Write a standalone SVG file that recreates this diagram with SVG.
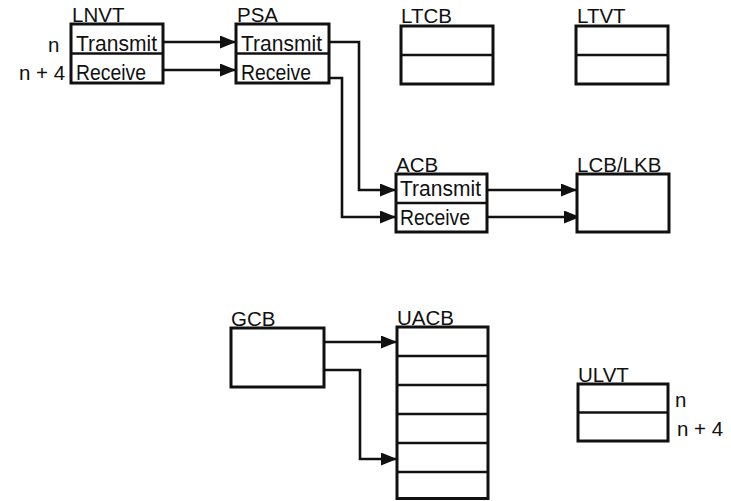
<svg xmlns="http://www.w3.org/2000/svg" width="731" height="501" viewBox="0 0 731 501">
<style>
  .box { fill: #fff; stroke: #111; stroke-width: 3; }
  .div { stroke: #111; stroke-width: 2.6; fill: none; }
  .lbl { font-family: "Liberation Sans", Arial, sans-serif; font-size: 20.5px; fill: #111; }
  .row { font-family: "Liberation Sans", Arial, sans-serif; font-size: 22px; fill: #111; }
  .wire { stroke: #111; stroke-width: 2.6; fill: none; }
</style>
<defs>
  <marker id="arr" markerUnits="userSpaceOnUse" markerWidth="17" markerHeight="14" refX="16" refY="6.5" orient="auto">
    <path d="M0,0 L16,6.5 L0,13 Z" fill="#111"/>
  </marker>
</defs>

<g id="connectors">
  <path class="wire" d="M163,42 L236,42" marker-end="url(#arr)"/>
  <path class="wire" d="M163,70 L236,70" marker-end="url(#arr)"/>
  <path class="wire" d="M329,42 L359,42 L359,190 L396,190" marker-end="url(#arr)"/>
  <path class="wire" d="M329,78 L342,78 L342,217 L396,217" marker-end="url(#arr)"/>
  <path class="wire" d="M487,190 L577,190" marker-end="url(#arr)"/>
  <path class="wire" d="M487,217 L580,217" marker-end="url(#arr)"/>
  <path class="wire" d="M324,342 L397,342" marker-end="url(#arr)"/>
  <path class="wire" d="M324,370 L360,370 L360,459 L397,459" marker-end="url(#arr)"/>
</g>

<g id="lnvt">
  <text class="lbl" x="72" y="22">LNVT</text>
  <text class="lbl" x="48" y="51.5">n</text>
  <text class="lbl" x="19" y="80">n + 4</text>
  <rect class="box" x="71" y="24" width="92" height="59"/>
  <line class="div" x1="71" y1="53.5" x2="163" y2="53.5"/>
  <text class="row" x="76" y="50.5" textLength="81" lengthAdjust="spacingAndGlyphs">Transmit</text>
  <text class="row" x="76" y="79.5" textLength="70" lengthAdjust="spacingAndGlyphs">Receive</text>
</g>

<g id="psa">
  <text class="lbl" x="237" y="22">PSA</text>
  <rect class="box" x="236" y="24" width="93" height="59"/>
  <line class="div" x1="236" y1="53.5" x2="329" y2="53.5"/>
  <text class="row" x="241" y="50.5" textLength="81" lengthAdjust="spacingAndGlyphs">Transmit</text>
  <text class="row" x="241" y="79.5" textLength="70" lengthAdjust="spacingAndGlyphs">Receive</text>
</g>

<g id="ltcb">
  <text class="lbl" x="401" y="23">LTCB</text>
  <rect class="box" x="401" y="26" width="92" height="58"/>
  <line class="div" x1="401" y1="55" x2="493" y2="55"/>
</g>

<g id="ltvt">
  <text class="lbl" x="577" y="23">LTVT</text>
  <rect class="box" x="576" y="26" width="92" height="58"/>
  <line class="div" x1="576" y1="55" x2="668" y2="55"/>
</g>

<g id="acb">
  <text class="lbl" x="396" y="172">ACB</text>
  <rect class="box" x="396" y="174" width="91" height="58"/>
  <line class="div" x1="396" y1="203" x2="487" y2="203"/>
  <text class="row" x="400" y="196" textLength="81" lengthAdjust="spacingAndGlyphs">Transmit</text>
  <text class="row" x="400" y="224.5" textLength="70" lengthAdjust="spacingAndGlyphs">Receive</text>
</g>

<g id="lcblkb">
  <text class="lbl" x="577" y="172">LCB/LKB</text>
  <rect class="box" x="577" y="174" width="92" height="58"/>
</g>

<g id="gcb">
  <text class="lbl" x="231" y="326">GCB</text>
  <rect class="box" x="231" y="328" width="93" height="59"/>
</g>

<g id="uacb">
  <text class="lbl" x="397" y="325">UACB</text>
  <rect class="box" x="397" y="327" width="91" height="171.5"/>
  <line class="div" x1="397" y1="356" x2="488" y2="356"/>
  <line class="div" x1="397" y1="385" x2="488" y2="385"/>
  <line class="div" x1="397" y1="414" x2="488" y2="414"/>
  <line class="div" x1="397" y1="443" x2="488" y2="443"/>
  <line class="div" x1="397" y1="472" x2="488" y2="472"/>
</g>

<g id="ulvt">
  <text class="lbl" x="578" y="382">ULVT</text>
  <rect class="box" x="578" y="384" width="90" height="57"/>
  <line class="div" x1="578" y1="412.5" x2="668" y2="412.5"/>
  <text class="lbl" x="675" y="407">n</text>
  <text class="lbl" x="677" y="436">n + 4</text>
</g>
</svg>
